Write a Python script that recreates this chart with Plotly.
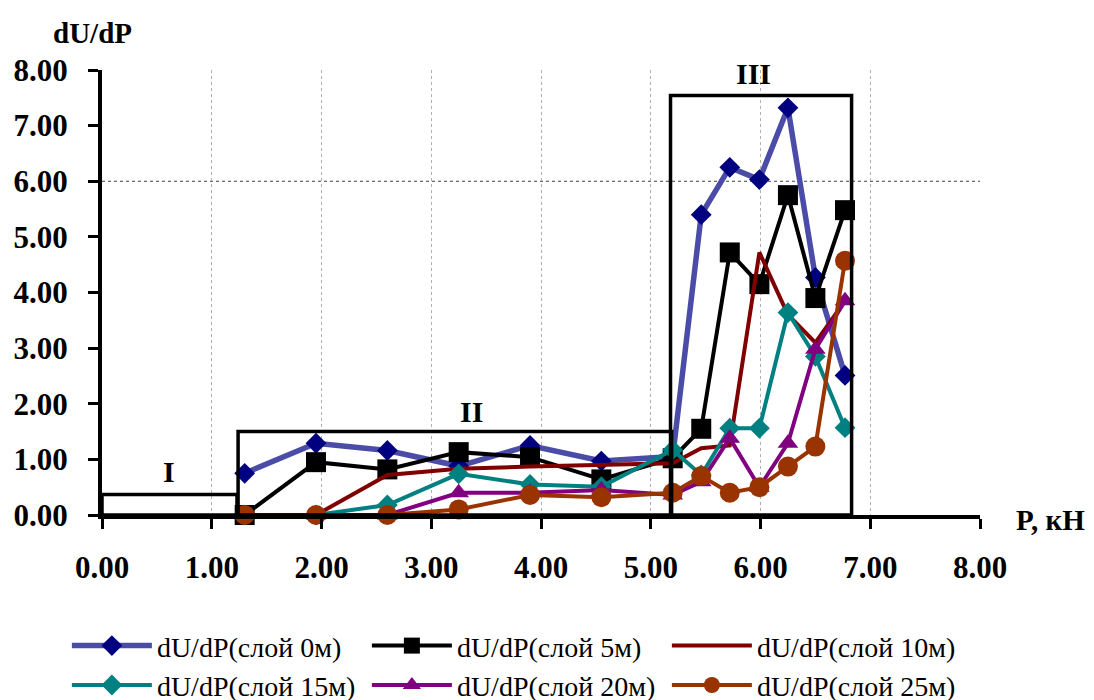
import plotly.graph_objects as go

# ---------------- data ----------------
P = [1.30, 1.95, 2.60, 3.25, 3.90, 4.55, 5.20, 5.46, 5.72, 5.99, 6.25, 6.50, 6.77]

layer_0m  = [0.75, 1.29, 1.16, 0.88, 1.25, 0.97, 1.05, 5.40, 6.25, 6.03, 7.32, 4.27, 2.51]
layer_5m  = [0.00, 0.95, 0.82, 1.13, 1.04, 0.64, 1.02, 1.55, 4.72, 4.15, 5.75, 3.90, 5.48]
layer_10m = [0.00, 0.00, 0.72, 0.83, 0.87, 0.90, 0.93, 1.20, 1.25, 4.72, 3.60, 3.10, 3.85]
layer_15m = [0.00, 0.00, 0.18, 0.74, 0.55, 0.51, 1.17, 0.72, 1.56, 1.56, 3.64, 2.85, 1.57]
layer_20m = [0.00, 0.00, 0.00, 0.40, 0.40, 0.45, 0.36, 0.60, 1.38, 0.50, 1.29, 2.98, 3.85]
layer_25m = [0.00, 0.00, 0.00, 0.10, 0.36, 0.32, 0.40, 0.70, 0.40, 0.50, 0.87, 1.23, 4.57]

series_names = ["dU/dP(слой 0м)", "dU/dP(слой 5м)", "dU/dP(слой 10м)",
                "dU/dP(слой 15м)", "dU/dP(слой 20м)", "dU/dP(слой 25м)"]

tick_vals = [0, 1, 2, 3, 4, 5, 6, 7, 8]
tick_text = ["0.00", "1.00", "2.00", "3.00", "4.00", "5.00", "6.00", "7.00", "8.00"]

# regions
region_labels = ["I", "II", "III"]
region_x0 = [0.0, 1.24, 5.18]
region_x1 = [1.23, 5.19, 6.83]
region_y1 = [0.37, 1.50, 7.54]
label_x = [0.61, 3.37, 5.94]
label_y = [0.78, 1.86, 7.93]

# ---------------- styles ----------------
FONT = "Liberation Serif"
styles = [
    dict(line=dict(color="#4b4ba8", width=5.5), marker=dict(symbol="diamond", size=16, color="#000080"), mode="lines+markers"),
    dict(line=dict(color="#000000", width=4), marker=dict(symbol="square", size=20, color="#000000"), mode="lines+markers"),
    dict(line=dict(color="#800000", width=4), marker=dict(size=1), mode="lines"),
    dict(line=dict(color="#008080", width=4), marker=dict(symbol="diamond", size=16, color="#008080"), mode="lines+markers"),
    dict(line=dict(color="#800080", width=4), marker=dict(symbol="triangle-up", size=18, color="#800080"), mode="lines+markers"),
    dict(line=dict(color="#993300", width=4), marker=dict(symbol="circle", size=20, color="#993300"), mode="lines+markers"),
]
all_series = [layer_0m, layer_5m, layer_10m, layer_15m, layer_20m, layer_25m]

fig = go.Figure()
for name, ys, st in zip(series_names, all_series, styles):
    fig.add_trace(go.Scatter(x=P, y=ys, name=name, cliponaxis=False, **st))

shapes = []
shapes.append(dict(type="line", xref="x", yref="y", x0=0, x1=8, y0=6, y1=6,
                   line=dict(color="#404040", width=1, dash="dot"), layer="below"))
for x0, x1, y1 in zip(region_x0, region_x1, region_y1):
    shapes.append(dict(type="rect", xref="x", yref="y", x0=x0, x1=x1, y0=0, y1=y1,
                       line=dict(color="black", width=3.5), layer="above"))

annotations = []
for lab, lx, ly in zip(region_labels, label_x, label_y):
    annotations.append(dict(x=lx, y=ly, xref="x", yref="y", text=lab, showarrow=False,
                            xanchor="center", yanchor="middle",
                            font=dict(family=FONT, size=30, color="black", weight="bold")))
annotations.append(dict(x=-0.011, y=1.083, xref="paper", yref="paper", text="dU/dP",
                        xanchor="center", yanchor="middle", showarrow=False,
                        font=dict(family=FONT, size=29, color="black", weight="bold")))
annotations.append(dict(x=1.08, y=-0.011, xref="paper", yref="paper", text="P, кН",
                        xanchor="center", yanchor="middle", showarrow=False,
                        font=dict(family=FONT, size=29, color="black", weight="bold")))

fig.update_layout(
    width=1094, height=700,
    margin=dict(l=94, r=122, t=62, b=193, autoexpand=False),
    paper_bgcolor="white", plot_bgcolor="white",
    font=dict(family=FONT, color="black"),
    shapes=shapes, annotations=annotations,
    showlegend=True,
    legend=dict(orientation="h", x=-0.04, y=-0.238, xanchor="left", yanchor="top",
                font=dict(family=FONT, size=28, color="black"),
                itemwidth=80, entrywidth=205, entrywidthmode="pixels",
                tracegroupgap=0, bgcolor="rgba(0,0,0,0)"),
)
fig.update_xaxes(range=[0, 8], tickvals=tick_vals, ticktext=tick_text,
                 showline=True, linecolor="black", linewidth=4,
                 ticks="outside", ticklen=10, tickwidth=3, tickcolor="black",
                 ticklabelstandoff=12,
                 tickfont=dict(family=FONT, size=31, color="black", weight="bold"),
                 showgrid=True, gridcolor="#b0b0b0", gridwidth=1, griddash="dot",
                 zeroline=False)
fig.update_yaxes(range=[0, 8], tickvals=tick_vals, ticktext=tick_text,
                 showline=True, linecolor="black", linewidth=4,
                 ticks="outside", ticklen=10, tickwidth=3, tickcolor="black",
                 ticklabelstandoff=14,
                 tickfont=dict(family=FONT, size=31, color="black", weight="bold"),
                 showgrid=False, zeroline=False)

fig.write_html("out.html")
